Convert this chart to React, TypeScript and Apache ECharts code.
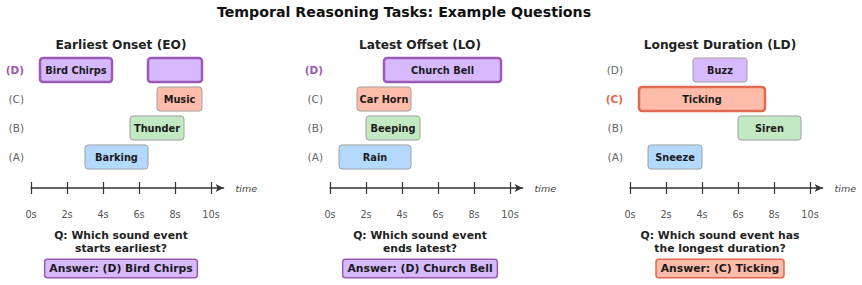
import React, { useEffect, useRef } from "react";
import * as echarts from "echarts";

const mainTitle = "Temporal Reasoning Tasks: Example Questions";
const rows = ["(A)", "(B)", "(C)", "(D)"];
const ticks = [0, 2, 4, 6, 8, 10];
const rowColors = ["#b3d9ff", "#c3e9c3", "#ffbba9", "#d7b9fd"];

const panelTitles = ["Earliest Onset (EO)", "Latest Offset (LO)", "Longest Duration (LD)"];
const questions = [
  "Q: Which sound event\nstarts earliest?",
  "Q: Which sound event\nends latest?",
  "Q: Which sound event has\nthe longest duration?",
];
const answers = ["Answer: (D) Bird Chirps", "Answer: (D) Church Bell", "Answer: (C) Ticking"];
const answerRows = [3, 3, 2];
const highlightColors = ["#9b59b6", "#9b59b6", "#e0694f"];

// Panel 1: Earliest Onset
const eoLabels = ["Barking", "Thunder", "Music", "Bird Chirps", ""];
const eoRows = [0, 1, 2, 3, 3];
const eoStart = [3, 5.5, 7, 0.5, 6.5];
const eoEnd = [6.5, 8.5, 9.5, 4.5, 9.5];

// Panel 2: Latest Offset
const loLabels = ["Rain", "Beeping", "Car Horn", "Church Bell"];
const loRows = [0, 1, 2, 3];
const loStart = [0.5, 2, 1.5, 3];
const loEnd = [4.5, 5, 4.5, 9.5];

// Panel 3: Longest Duration
const ldLabels = ["Sneeze", "Siren", "Ticking", "Buzz"];
const ldRows = [0, 1, 2, 3];
const ldStart = [1, 6, 0.5, 3.5];
const ldEnd = [4, 9.5, 7.5, 6.5];

const panels = [
  { labels: eoLabels, rows: eoRows, start: eoStart, end: eoEnd },
  { labels: loLabels, rows: loRows, start: loStart, end: loEnd },
  { labels: ldLabels, rows: ldRows, start: ldStart, end: ldEnd },
];

const FONT = "DejaVu Sans";
const panelLeft = [31, 330, 630];
const pxPerSec = 18;
const axisMax = 10.7;

export default function App() {
  const ref = useRef<HTMLDivElement>(null);
  useEffect(() => {
    if (!ref.current) return;
    const chart = echarts.init(ref.current, undefined, { renderer: "svg" });
    const grids: any[] = [];
    const xAxes: any[] = [];
    const yAxes: any[] = [];
    const series: any[] = [];
    const graphics: any[] = [];

    panels.forEach((p, pi) => {
      const left = panelLeft[pi];
      const hlRow = answerRows[pi];
      const hlColor = highlightColors[pi];
      grids.push({ left, top: 55.5, height: 116, width: axisMax * pxPerSec });
      xAxes.push({
        type: "value",
        gridIndex: pi,
        min: 0,
        max: axisMax,
        offset: 16.5,
        position: "bottom",
        splitLine: { show: false },
        axisLine: {
          show: true,
          lineStyle: { color: "#333", width: 1.5 },
          symbol: ["none", "arrow"],
          symbolSize: [6, 8],
        },
        axisTick: {
          show: true,
          customValues: ticks,
          length: 6,
          inside: false,
          lineStyle: { color: "#333", width: 1.2 },
        },
        axisLabel: {
          show: true,
          customValues: ticks,
          formatter: "{value}s",
          margin: 21,
          color: "#555",
          fontFamily: FONT,
          fontSize: 9.7,
        },
        name: "time",
        nameLocation: "end",
        nameGap: 12,
        nameTextStyle: { fontFamily: FONT, fontSize: 9.5, fontStyle: "italic", color: "#444", verticalAlign: "middle" },
      });
      xAxes.push({
        type: "value",
        gridIndex: pi,
        min: 0,
        max: axisMax,
        offset: 16.5,
        position: "bottom",
        splitLine: { show: false },
        axisLine: { show: false },
        axisTick: {
          show: true,
          customValues: ticks,
          length: 6,
          inside: true,
          lineStyle: { color: "#333", width: 1.2 },
        },
        axisLabel: { show: false },
      });
      yAxes.push({
        type: "category",
        gridIndex: pi,
        data: rows,
        axisLine: { show: false },
        axisTick: { show: false },
        splitLine: { show: false },
        axisLabel: {
          margin: 7,
          fontFamily: FONT,
          fontSize: 10.5,
          color: "#666",
          formatter: (v: string, i: number) => (i === hlRow ? `{hl|${v}}` : v),
          rich: {
            hl: { fontFamily: FONT, fontSize: 10.5, fontWeight: "bold", color: hlColor },
          },
        },
      });
      const data = p.labels.map((lab, i) => [p.start[i], p.end[i], p.rows[i], lab]);
      series.push({
        type: "custom",
        xAxisIndex: pi * 2,
        yAxisIndex: pi,
        data,
        renderItem: (params: any, api: any) => {
          const s = api.value(0);
          const e = api.value(1);
          const r = api.value(2);
          const lab = p.labels[params.dataIndex];
          const p0 = api.coord([s, r]);
          const p1 = api.coord([e, r]);
          const bandH = api.size([0, 1])[1];
          const h = bandH * 0.83;
          const isHl = r === hlRow;
          return {
            type: "group",
            children: [
              {
                type: "rect",
                shape: { x: p0[0], y: p0[1] - h / 2, width: p1[0] - p0[0], height: h, r: 3 },
                style: {
                  fill: rowColors[r],
                  stroke: isHl ? hlColor : "#a0a0a0",
                  lineWidth: isHl ? 2.5 : 1,
                },
              },
              {
                type: "text",
                x: (p0[0] + p1[0]) / 2,
                y: p0[1],
                style: {
                  text: lab,
                  align: "center",
                  verticalAlign: "middle",
                  fontFamily: FONT,
                  fontSize: 9.8,
                  fontWeight: "bold",
                  fill: "#1a1a1a",
                },
              },
            ],
          };
        },
      });
      const cx = left + 5 * pxPerSec;
      graphics.push({
        type: "text",
        x: cx,
        y: 45,
        style: {
          text: panelTitles[pi],
          align: "center",
          verticalAlign: "middle",
          fontFamily: FONT,
          fontSize: 12.2,
          fontWeight: "bold",
          fill: "#222",
        },
      });
      graphics.push({
        type: "text",
        x: cx,
        y: 242,
        style: {
          text: questions[pi],
          align: "center",
          verticalAlign: "middle",
          lineHeight: 13.5,
          fontFamily: FONT,
          fontSize: 10.8,
          fontWeight: "bold",
          fill: "#222",
        },
      });
      graphics.push({
        type: "text",
        x: cx,
        y: 268.5,
        style: {
          text: answers[pi],
          align: "center",
          verticalAlign: "middle",
          fontFamily: FONT,
          fontSize: 10.8,
          fontWeight: "bold",
          fill: "#1a1a1a",
          backgroundColor: rowColors[hlRow],
          borderColor: hlColor,
          borderWidth: 1.5,
          borderRadius: 2,
          padding: [3, 4, 3, 4],
        },
      });
    });

    graphics.push({
      type: "text",
      x: 404,
      y: 12,
      style: {
        text: mainTitle,
        align: "center",
        verticalAlign: "middle",
        fontFamily: FONT,
        fontSize: 14.2,
        fontWeight: "bold",
        fill: "#111",
      },
    });

    chart.setOption({
      animation: false,
      backgroundColor: "#ffffff",
      grid: grids,
      xAxis: xAxes,
      yAxis: yAxes,
      series,
      graphic: graphics,
    });
    return () => chart.dispose();
  }, []);
  return (
    <div
      ref={ref}
      style={{ position: "absolute", left: 0, top: 0, width: 862, height: 285 }}
    />
  );
}
